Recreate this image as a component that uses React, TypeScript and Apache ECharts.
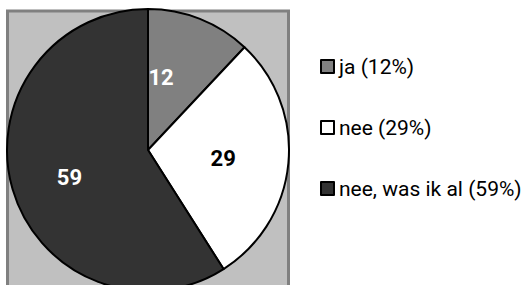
import React, { useEffect, useRef } from "react";
import * as echarts from "echarts";

const categories = ["ja (12%)", "nee (29%)", "nee, was ik al (59%)"];
const values = [12, 29, 59];
const colors = ["#808080", "#ffffff", "#333333"];
const labelColors = ["#ffffff", "#000000", "#ffffff"];
const labelOffsets: [number, number][] = [[-14, -4], [2, 2], [-8, 7]];

const FONT = "Roboto, 'Liberation Sans', sans-serif";

export default function App() {
  const ref = useRef<HTMLDivElement>(null);
  useEffect(() => {
    if (!ref.current) return;
    const chart = echarts.init(ref.current, undefined, { renderer: "svg" });
    chart.setOption({
      animation: false,
      backgroundColor: "#ffffff",
      graphic: [
        {
          type: "rect",
          z: 0,
          shape: { x: 7.5, y: 11, width: 281, height: 300 },
          style: { fill: "#c0c0c0", stroke: "#808080", lineWidth: 3 },
        },
      ],
      legend: {
        orient: "vertical",
        left: 320,
        top: 56,
        padding: 0,
        itemWidth: 13,
        itemHeight: 13,
        itemGap: 40,
        icon: "rect",
        itemStyle: { borderColor: "#000000", borderWidth: 2 },
        textStyle: { fontFamily: FONT, fontSize: 21, color: "#000000", lineHeight: 20 },
        data: categories,
      },
      series: [
        {
          type: "pie",
          z: 2,
          center: [148, 150],
          radius: 141,
          startAngle: 90,
          clockwise: true,
          silent: true,
          itemStyle: { borderColor: "#000000", borderWidth: 2 },
          label: {
            show: true,
            position: "inside",
            formatter: (p: any) => String(p.value),
            fontFamily: FONT,
            fontSize: 22,
            fontWeight: "bold",
          },
          labelLine: { show: false },
          emphasis: { disabled: true },
          data: categories.map((name, i) => ({
            name,
            value: values[i],
            itemStyle: { color: colors[i] },
            label: { color: labelColors[i], offset: labelOffsets[i] },
          })),
        },
      ],
    });
    return () => chart.dispose();
  }, []);
  return (
    <div
      ref={ref}
      style={{ position: "fixed", left: 0, top: 0, width: 528, height: 285 }}
    />
  );
}
